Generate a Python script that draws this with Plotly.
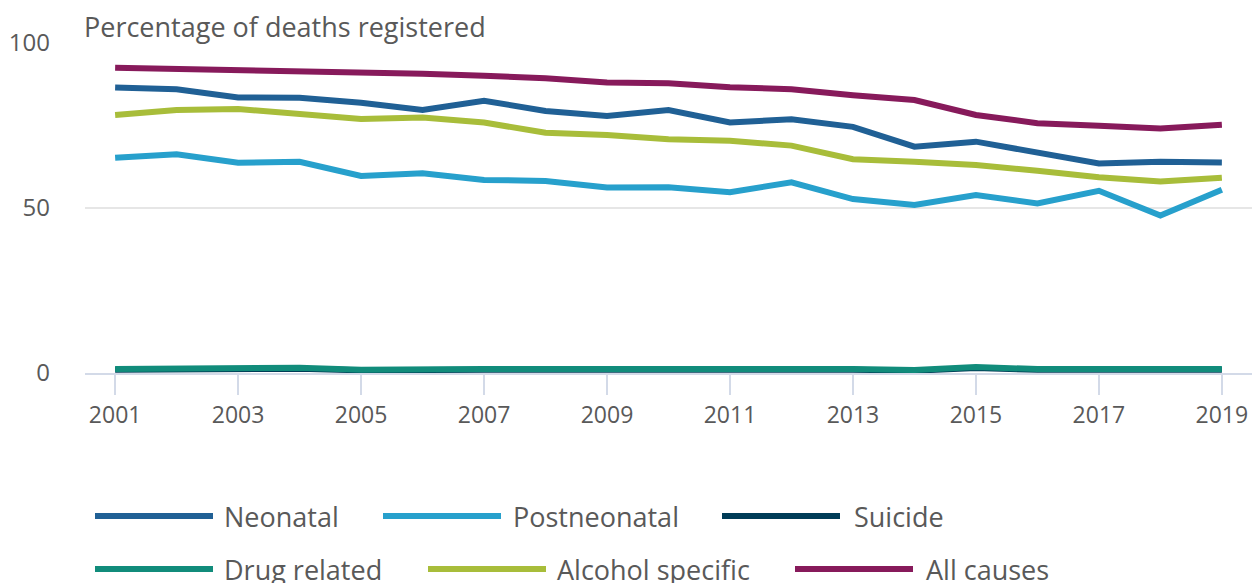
import plotly.graph_objects as go

years = list(range(2001, 2020))

neonatal = [86.5, 86.0, 83.5, 83.4, 81.9, 79.7, 82.5, 79.4, 77.9, 79.7,
            75.9, 76.9, 74.6, 68.6, 70.1, 66.9, 63.5, 64.0, 63.8]
postneonatal = [65.2, 66.3, 63.7, 64.0, 59.7, 60.5, 58.5, 58.2, 56.2, 56.3,
                54.8, 57.8, 52.7, 50.9, 53.9, 51.4, 55.2, 47.7, 55.5]
suicide = [1.0, 1.1, 1.0, 1.3, 0.8, 1.1, 1.0, 1.0, 0.9, 0.9,
           0.8, 1.0, 1.0, 0.7, 1.5, 1.0, 1.0, 0.9, 1.0]
drug_related = [1.2, 1.3, 1.2, 1.6, 1.0, 1.3, 1.2, 1.2, 1.1, 1.1,
                1.0, 1.2, 1.2, 0.9, 1.8, 1.2, 1.2, 1.1, 1.2]
alcohol_specific = [78.2, 79.7, 80.0, 78.5, 77.0, 77.4, 75.9, 72.8, 72.1, 70.8,
                    70.4, 68.9, 64.8, 64.0, 63.0, 61.3, 59.3, 58.0, 59.2]
all_causes = [92.5, 92.2, 91.8, 91.3, 91.0, 90.7, 90.1, 89.3, 88.0, 87.8,
              86.6, 86.0, 84.2, 82.7, 78.2, 75.7, 74.9, 74.1, 75.2]

series = [
    ("Neonatal", neonatal, "#206095"),
    ("Postneonatal", postneonatal, "#27a0cc"),
    ("Suicide", suicide, "#003c57"),
    ("Drug related", drug_related, "#118c7b"),
    ("Alcohol specific", alcohol_specific, "#a8bd3a"),
    ("All causes", all_causes, "#871a5b"),
]

FONT = "Open Sans, Noto Sans, sans-serif"
TEXT = "#595959"

fig = go.Figure()
for name, vals, col in series:
    fig.add_trace(go.Scatter(
        x=years, y=vals, name=name, mode="lines",
        line=dict(color=col, width=6), showlegend=False,
    ))

# page geometry used to place the hand-drawn legend
W, H = 1252, 583
ML, MT, MB = 85, 43, 210
plot_w = W - ML
plot_h = H - MT - MB

def px_x(px):
    return (px - ML) / plot_w

def px_y(py):
    return (H - MB - py) / plot_h

legend_pos = [
    (95, 516, 222), (383, 516, 511), (722, 516, 852),
    (95, 569, 222), (428, 569, 555), (795, 569, 924),
]
shapes = []
annotations = []
for (name, _, col), (lx, ly, tx) in zip(series, legend_pos):
    shapes.append(dict(
        type="line", xref="paper", yref="paper",
        x0=px_x(lx), x1=px_x(lx + 118), y0=px_y(ly), y1=px_y(ly),
        line=dict(color=col, width=6),
    ))
    annotations.append(dict(
        text=name, xref="paper", yref="paper", x=px_x(tx), y=px_y(ly),
        xanchor="left", yanchor="middle", showarrow=False,
        font=dict(family=FONT, size=27, color=TEXT),
    ))

annotations.append(dict(
    text="Percentage of deaths registered", xref="paper", yref="paper",
    x=px_x(82), y=px_y(26), xanchor="left", yanchor="middle", showarrow=False,
    font=dict(family=FONT, size=27, color=TEXT),
))

fig.update_layout(
    width=W, height=H,
    margin=dict(l=ML, r=0, t=MT, b=MB, pad=0),
    paper_bgcolor="white", plot_bgcolor="white",
    font=dict(family=FONT, size=23, color=TEXT),
    shapes=shapes, annotations=annotations,
    xaxis=dict(
        range=[2000.51, 2019.49], tickmode="array",
        tickvals=list(range(2001, 2020, 2)),
        showgrid=False, zeroline=False,
        showline=True, linecolor="#d3dae8", linewidth=2,
        ticks="outside", ticklen=20, tickwidth=2, tickcolor="#d3dae8",
        tickfont=dict(family=FONT, size=23, color=TEXT),
    ),
    yaxis=dict(
        range=[0, 100], tickvals=[0, 50, 100],
        showgrid=True, gridcolor="#e6e6e6", gridwidth=2,
        zeroline=False, showline=False,
        ticks="", ticklabelstandoff=34,
        tickfont=dict(family=FONT, size=24, color=TEXT),
    ),
)

fig.write_html("out.html")
